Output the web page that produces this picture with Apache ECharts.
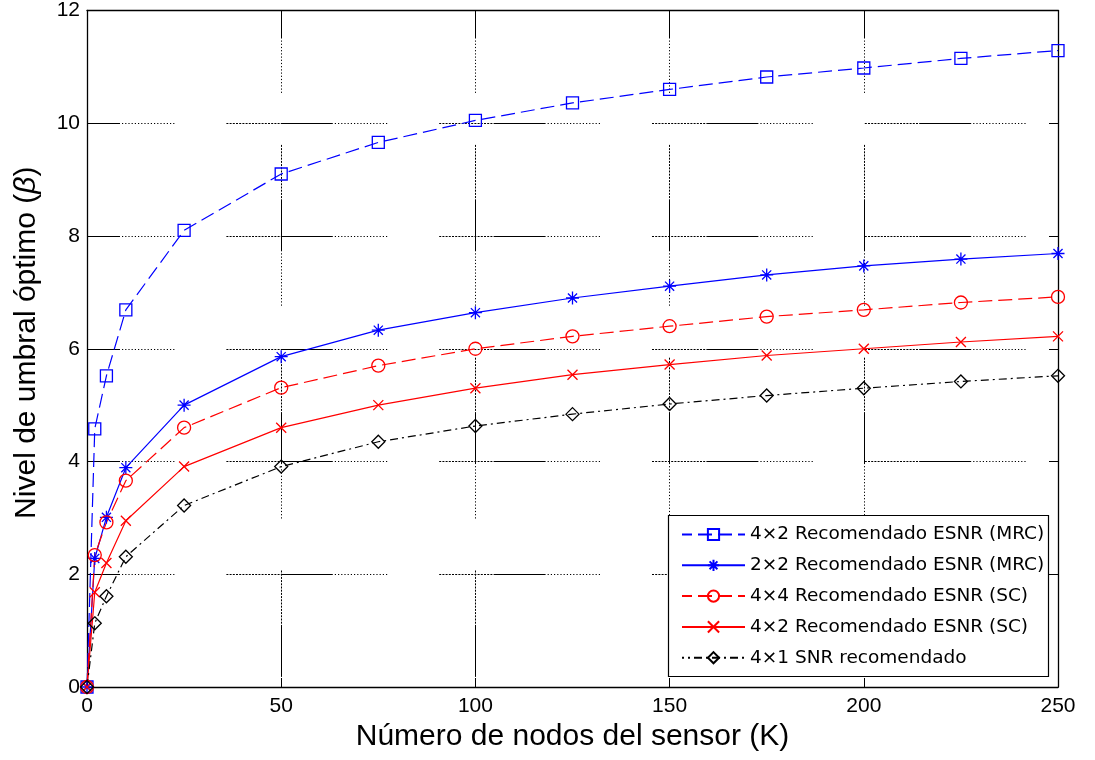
<!DOCTYPE html>
<html>
<head>
<meta charset="utf-8">
<title>Nivel de umbral óptimo</title>
<script src="https://cdn.jsdelivr.net/npm/echarts@6/dist/echarts.min.js"></script>
<style>
  html, body { margin: 0; padding: 0; background: #ffffff; }
  #chart { width: 1095px; height: 760px; }
</style>
</head>
<body>
<div id="chart"></div>
<script>
// Number of sensor nodes (K)
const nodeCounts = [0, 2, 5, 10, 25, 50, 75, 100, 125, 150, 175, 200, 225, 250];

// Optimum threshold level (beta) for each configuration
const esnrMrc4x2 = [0, 4.58, 5.52, 6.69, 8.10, 9.10, 9.66, 10.05, 10.36, 10.60, 10.82, 10.98, 11.15, 11.29];
const esnrMrc2x2 = [0, 2.28, 3.01, 3.89, 5.00, 5.86, 6.33, 6.64, 6.90, 7.11, 7.31, 7.47, 7.59, 7.69];
const esnrSc4x4  = [0, 2.34, 2.92, 3.66, 4.60, 5.31, 5.70, 6.00, 6.22, 6.40, 6.57, 6.69, 6.82, 6.92];
const esnrSc4x2  = [0, 1.68, 2.20, 2.95, 3.91, 4.60, 5.00, 5.30, 5.54, 5.72, 5.88, 6.00, 6.12, 6.22];
const snr4x1     = [0, 1.13, 1.61, 2.31, 3.22, 3.91, 4.35, 4.63, 4.84, 5.02, 5.17, 5.30, 5.42, 5.52];

const seriesNames = [
  '4×2 Recomendado ESNR (MRC)',
  '2×2 Recomendado ESNR (MRC)',
  '4×4 Recomendado ESNR (SC)',
  '4×2 Recomendado ESNR (SC)',
  '4×1 SNR recomendado'
];

const xAxisTitle = 'Número de nodos del sensor (K)';
const yAxisTitle = 'Nivel de umbral óptimo ({b|β})';

// Grid line stroke: a solid run followed by a run of fine dots
function gridDash() {
  const d = [52];
  for (let i = 0; i < 17; i++) { d.push(2, 1.2); }
  return d;
}

const asterisk = 'path://M0,5L10,5M5,0L5,10M1.5,1.5L8.5,8.5M8.5,1.5L1.5,8.5';
const cross = 'path://M0,0L10,10M10,0L0,10';

function pairs(values) {
  return nodeCounts.map((x, i) => [x, values[i]]);
}

function makeSeries(name, values, color, dash, symbol, size) {
  return {
    name: name,
    type: 'line',
    data: pairs(values),
    symbol: symbol,
    symbolSize: size,
    showAllSymbol: true,
    lineStyle: { color: color, width: 1.2, type: dash },
    itemStyle: { color: 'none', borderColor: color, borderWidth: 1.3 },
    emphasis: { disabled: true },
    z: 3
  };
}

const fontMain = '"Liberation Sans", Arial, sans-serif';

const chart = echarts.init(document.getElementById('chart'), null, { renderer: 'canvas' });

const tickStyle = { show: true, inside: true, length: 9, lineStyle: { color: '#000', width: 1 } };
const axisLineStyle = { show: true, onZero: false, lineStyle: { color: '#000', width: 1.3 } };

chart.setOption({
  animation: false,
  backgroundColor: '#ffffff',
  grid: { left: 87, right: 37, top: 9, bottom: 73, containLabel: false },
  xAxis: [
    {
      type: 'value', min: 0, max: 250, interval: 50,
      position: 'bottom',
      axisLine: axisLineStyle,
      axisTick: tickStyle,
      axisLabel: { color: '#000', fontSize: 21, fontFamily: fontMain, margin: 9 },
      splitLine: {
        show: true,
        lineStyle: { color: '#000', width: 1, type: gridDash(), dashOffset: 24 }
      },
      name: xAxisTitle,
      nameLocation: 'middle',
      nameGap: 29,
      nameTextStyle: { color: '#000', fontSize: 30, fontFamily: fontMain }
    },
    {
      type: 'value', min: 0, max: 250, interval: 50,
      position: 'top',
      axisLine: axisLineStyle,
      axisTick: tickStyle,
      axisLabel: { show: false },
      splitLine: { show: false }
    }
  ],
  yAxis: [
    {
      type: 'value', min: 0, max: 12, interval: 2,
      position: 'left',
      axisLine: axisLineStyle,
      axisTick: tickStyle,
      axisLabel: { color: '#000', fontSize: 21, fontFamily: fontMain, margin: 7 },
      splitLine: {
        show: true,
        lineStyle: { color: '#000', width: 1, type: gridDash(), dashOffset: 19 }
      },
      name: yAxisTitle,
      nameLocation: 'middle',
      nameRotate: 90,
      nameGap: 45,
      nameTextStyle: {
        color: '#000', fontSize: 30, fontFamily: fontMain, padding: [0, 0, 0, 12],
        rich: { b: { fontSize: 30, fontStyle: 'italic', fontFamily: fontMain, color: '#000' } }
      }
    },
    {
      type: 'value', min: 0, max: 12, interval: 2,
      position: 'right',
      axisLine: axisLineStyle,
      axisTick: tickStyle,
      axisLabel: { show: false },
      splitLine: { show: false }
    }
  ],
  legend: {
    orient: 'vertical',
    left: 681,
    top: 525,
    padding: 0,
    itemWidth: 63,
    itemHeight: 14,
    itemGap: 11.8,
    z: 6,
    selectedMode: false,
    textStyle: { color: '#000', fontSize: 18.5, fontFamily: '"DejaVu Sans", sans-serif' },
    data: seriesNames
  },
  graphic: [
    {
      type: 'rect',
      z: 5,
      shape: { x: 668.5, y: 515.5, width: 380, height: 161 },
      style: { fill: '#ffffff', stroke: '#000', lineWidth: 1.2 }
    }
  ],
  series: [
    makeSeries(seriesNames[0], esnrMrc4x2, '#0000ff', [14, 6], 'rect', 12),
    makeSeries(seriesNames[1], esnrMrc2x2, '#0000ff', 'solid', asterisk, 13),
    makeSeries(seriesNames[2], esnrSc4x4, '#ff0000', [14, 6], 'circle', 13),
    makeSeries(seriesNames[3], esnrSc4x2, '#ff0000', 'solid', cross, 10),
    makeSeries(seriesNames[4], snr4x1, '#000000', [8, 4, 2, 4], 'diamond', 13)
  ]
});
</script>
</body>
</html>
